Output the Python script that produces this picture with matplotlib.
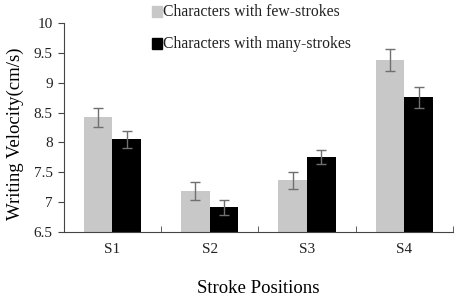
import numpy as np
import matplotlib
matplotlib.use("Agg")
import matplotlib.pyplot as plt
from matplotlib.patches import Rectangle

plt.rcParams["font.family"] = ["Liberation Serif", "DejaVu Serif"]

positions = ["S1", "S2", "S3", "S4"]
few = [8.42, 7.19, 7.365, 9.38]
few_err = [0.16, 0.15, 0.145, 0.18]
many = [8.05, 6.91, 7.76, 8.755]
many_err = [0.14, 0.12, 0.12, 0.17]

fig = plt.figure(figsize=(4.59, 3.0), dpi=100)
ax = fig.add_axes([0.139, 0.227, 0.848, 0.696])

x = np.arange(len(positions))
w = 0.295
ekw = dict(ecolor="#707070", elinewidth=1, capsize=3.5, capthick=1)
ax.bar(x - w/2, np.array(few) - 6.5, w, bottom=6.5, color="#c8c8c8",
       yerr=few_err, error_kw=ekw)
ax.bar(x + w/2, np.array(many) - 6.5, w, bottom=6.5, color="black",
       yerr=many_err, error_kw=ekw)

ax.set_xlim(-0.5, len(positions) - 0.5)
ax.set_ylim(6.5, 10)
ax.set_yticks([6.5, 7, 7.5, 8, 8.5, 9, 9.5, 10])
ax.set_yticklabels(["6.5", "7", "7.5", "8", "8.5", "9", "9.5", "10"])
ax.set_xticks(x)
ax.set_xticklabels(positions)
ax.set_xticks(np.arange(0.5, len(positions), 1), minor=True)
ax.tick_params(axis="x", which="major", length=0, pad=8, labelsize=11, labelcolor="#222222")
ax.tick_params(axis="x", which="minor", direction="in", length=4, color="#444444")
ax.tick_params(axis="y", direction="out", length=4, labelsize=11, color="#444444", pad=4,
               labelcolor="#222222")
for s in ("top", "right"):
    ax.spines[s].set_visible(False)
for s in ("left", "bottom"):
    ax.spines[s].set_color("#444444")

ax.set_ylabel("Writing Velocity(cm/s)", fontsize=13.5)
ax.yaxis.set_label_coords(-0.103, 0.47)
ax.set_xlabel("Stroke Positions", fontsize=13.5, labelpad=17)

# legend drawn by hand in figure coords (outside top of plot area)
fig.patches.append(Rectangle((152/459, 1 - 17/300), 10/459, 11/300, transform=fig.transFigure,
                             color="#c8c8c8"))
fig.patches.append(Rectangle((152/459, 1 - 49/300), 10/459, 11/300, transform=fig.transFigure,
                             color="black"))
fig.text(163/459, 1 - 12/300, "Characters with few-strokes", fontsize=11.3, va="center",
         color="#222222")
fig.text(163/459, 1 - 44/300, "Characters with many-strokes", fontsize=11.3, va="center",
         color="#222222")

fig.savefig("out.png", dpi=100)
